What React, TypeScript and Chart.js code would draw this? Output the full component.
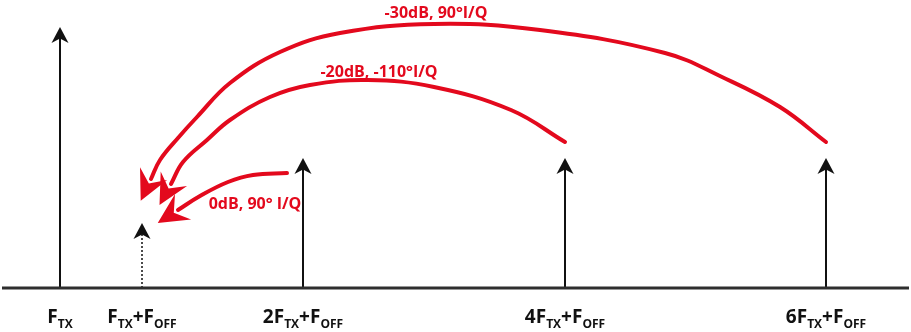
import { useEffect, useRef } from 'react';
import { Chart, registerables } from 'chart.js';

Chart.register(...registerables);

// ---- data (x in frequency-axis units, y in amplitude units) ----
const xLabels = ['F_{TX}', 'F_{TX}+F_{OFF}', '2F_{TX}+F_{OFF}', '4F_{TX}+F_{OFF}', '6F_{TX}+F_{OFF}'];
const xPositions = [60, 142, 303, 565, 826];
const arrowHeights = [261, 65, 130, 130, 130];
const dottedArrow = [false, true, false, false, false];
const axisStart = 2;
const axisEnd = 909;

const curveLabels = ['-30dB, 90°I/Q', '-20dB, -110°I/Q', '0dB, 90° I/Q'];
const curveLabelX = [436, 379, 255];
const curveLabelY = [270, 211, 79];

// image paths (folded products back onto F_TX+F_OFF)
const curve30dB: [number, number][] = [
  [826, 146], [780, 181], [722, 211], [665, 235], [540, 258], [434, 264], [340, 255],
  [280, 236], [230, 205], [197, 171], [178, 150], [160, 128], [151, 109],
];
const curve20dB: [number, number][] = [
  [565, 146], [511, 178], [434, 201], [368, 208], [310, 203], [270, 191],
  [230, 168], [207, 148], [183, 126], [171, 104],
];
const curve0dB: [number, number][] = [
  [287, 115], [253, 113], [228, 106], [200, 92], [178, 78],
];
const curves = [curve30dB, curve20dB, curve0dB];

const RED = '#e3091d';
const BLACK = '#111111';

function parseLabel(s: string) {
  const segs: { t: string; sub: boolean }[] = [];
  const re = /_\{([^}]*)\}/g;
  let last = 0;
  let m: RegExpExecArray | null;
  while ((m = re.exec(s))) {
    if (m.index > last) segs.push({ t: s.slice(last, m.index), sub: false });
    segs.push({ t: m[1], sub: true });
    last = m.index + m[0].length;
  }
  if (last < s.length) segs.push({ t: s.slice(last), sub: false });
  return segs;
}

function drawHead(ctx: CanvasRenderingContext2D, tx: number, ty: number, dx: number, dy: number, L: number, W: number, notch: number, color: string) {
  const len = Math.hypot(dx, dy) || 1;
  const ux = dx / len, uy = dy / len;
  const nx = -uy, ny = ux;
  const bx = tx - ux * L, by = ty - uy * L;
  ctx.beginPath();
  ctx.moveTo(tx, ty);
  ctx.lineTo(bx + nx * W, by + ny * W);
  ctx.lineTo(bx + ux * notch, by + uy * notch);
  ctx.lineTo(bx - nx * W, by - ny * W);
  ctx.closePath();
  ctx.fillStyle = color;
  ctx.fill();
}

const diagramPlugin = {
  id: 'diagram',
  afterDatasetsDraw(chart: any) {
    const ctx: CanvasRenderingContext2D = chart.ctx;
    const xs = chart.scales.x;
    const ys = chart.scales.y;
    ctx.save();
    // vertical arrow heads
    xPositions.forEach((x, i) => {
      const px = xs.getPixelForValue(x);
      const py = ys.getPixelForValue(arrowHeights[i]);
      drawHead(ctx, px, py, 0, -1, 16, 8.5, 4.5, BLACK);
    });
    // red arrow heads (extend beyond the last point of each curve)
    curves.forEach((c) => {
      const a = c[c.length - 2];
      const b = c[c.length - 1];
      const ax = xs.getPixelForValue(a[0]), ay = ys.getPixelForValue(a[1]);
      const bx = xs.getPixelForValue(b[0]), by = ys.getPixelForValue(b[1]);
      const dx = bx - ax, dy = by - ay;
      const len = Math.hypot(dx, dy) || 1;
      const L = 30;
      const tx = bx + (dx / len) * (L - 6);
      const ty = by + (dy / len) * (L - 6);
      drawHead(ctx, tx, ty, dx, dy, L, 15, 11, RED);
    });
    // red curve labels
    ctx.fillStyle = RED;
    ctx.font = 'bold 16px "Open Sans", sans-serif';
    ctx.textAlign = 'center';
    ctx.textBaseline = 'alphabetic';
    curveLabels.forEach((t, i) => {
      ctx.fillText(t, xs.getPixelForValue(curveLabelX[i]), ys.getPixelForValue(curveLabelY[i]));
    });
    // frequency labels with subscripts
    const mainFont = 'bold 19px "Open Sans", sans-serif';
    const subFont = 'bold 12px "Open Sans", sans-serif';
    const baseY = ys.getPixelForValue(0) + 35;
    ctx.fillStyle = BLACK;
    ctx.textAlign = 'left';
    xLabels.forEach((lab, i) => {
      const segs = parseLabel(lab);
      let total = 0;
      const widths = segs.map((s) => {
        ctx.font = s.sub ? subFont : mainFont;
        const w = ctx.measureText(s.t).width;
        total += w;
        return w;
      });
      let cx = xs.getPixelForValue(xPositions[i]) - total / 2;
      segs.forEach((s, k) => {
        ctx.font = s.sub ? subFont : mainFont;
        ctx.fillText(s.t, cx, s.sub ? baseY + 5 : baseY);
        cx += widths[k];
      });
    });
    ctx.restore();
  },
};

export default function App() {
  const ref = useRef<HTMLCanvasElement>(null);
  useEffect(() => {
    const datasets: any[] = [];
    datasets.push({
      data: [{ x: axisStart, y: 0 }, { x: axisEnd, y: 0 }],
      borderColor: '#2e2e2e',
      borderWidth: 3,
      pointRadius: 0,
      clip: false,
    });
    xPositions.forEach((x, i) => {
      datasets.push({
        data: [{ x, y: 0 }, { x, y: arrowHeights[i] - 8 }],
        borderColor: BLACK,
        borderWidth: dottedArrow[i] ? 1.5 : 2,
        borderDash: dottedArrow[i] ? [2, 2] : [],
        pointRadius: 0,
        clip: false,
      });
    });
    curves.forEach((c) => {
      datasets.push({
        data: c.map(([x, y]) => ({ x, y })),
        borderColor: RED,
        borderWidth: 4,
        tension: 0.4,
        pointRadius: 0,
        borderCapStyle: 'round',
        clip: false,
      });
    });
    const chart = new Chart(ref.current!, {
      type: 'line',
      data: { datasets },
      options: {
        responsive: false,
        devicePixelRatio: 1,
        animation: false,
        events: [],
        layout: { padding: { left: 0, right: 0, top: 0, bottom: 44 } },
        plugins: { legend: { display: false }, tooltip: { enabled: false } },
        scales: {
          x: { type: 'linear', display: false, min: 0, max: 911 },
          y: { type: 'linear', display: false, min: 0, max: 288 },
        },
      },
      plugins: [diagramPlugin],
    });
    return () => chart.destroy();
  }, []);
  return (
    <div style={{ position: 'fixed', left: 0, top: 0, width: 911, height: 332, background: '#fff' }}>
      <canvas ref={ref} width={911} height={332} style={{ display: 'block', width: 911, height: 332 }} />
    </div>
  );
}
